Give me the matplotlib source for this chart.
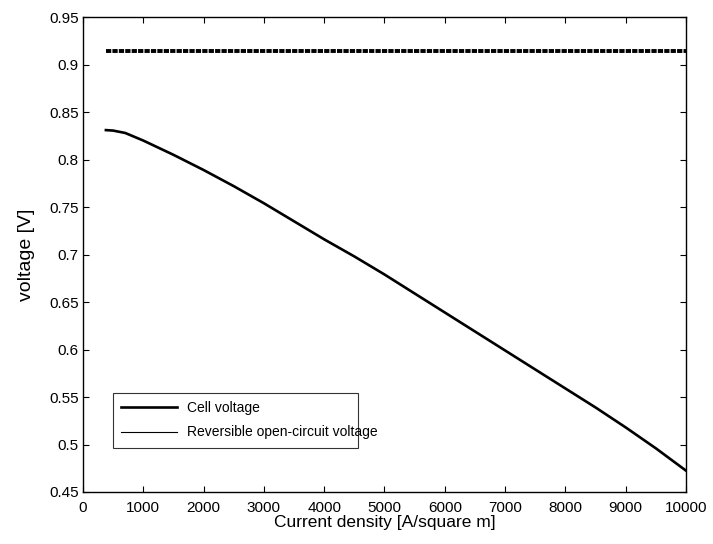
#!/usr/bin/env python3
import matplotlib
matplotlib.use("Agg")
import matplotlib.pyplot as plt
from matplotlib.ticker import FormatStrFormatter, FuncFormatter

# current density [A/m^2] and cell voltage [V]
current = [380, 500, 700, 1000, 1500, 2000, 2500, 3000, 3500, 4000, 4500,
           5000, 5500, 6000, 6500, 7000, 7500, 8000, 8500, 9000, 9500, 10000]
cell_v = [0.831, 0.8305, 0.828, 0.820, 0.805, 0.789, 0.772, 0.754, 0.735,
          0.716, 0.698, 0.679, 0.659, 0.639, 0.619, 0.599, 0.579, 0.559,
          0.539, 0.518, 0.496, 0.4725]

# reversible open-circuit voltage (constant)
rev_x = [380, 10000]
rev_v = [0.9145, 0.9145]

x_ticks = [0, 1000, 2000, 3000, 4000, 5000, 6000, 7000, 8000, 9000, 10000]
y_ticks = [0.45, 0.5, 0.55, 0.6, 0.65, 0.7, 0.75, 0.8, 0.85, 0.9, 0.95]


def main():
    plt.rcParams['font.family'] = ['Liberation Sans', 'DejaVu Sans']

    fig = plt.figure(figsize=(7.13, 5.44), dpi=100)
    ax = fig.add_axes([0.1164, 0.0956, 0.8457, 0.873])

    ax.plot(current, cell_v, color='black', lw=1.9, label='Cell voltage')
    ax.plot(rev_x, rev_v, color='black', lw=2.8, dashes=(1.35, 0.3),
            solid_capstyle='butt', dash_capstyle='butt')
    # legend entry drawn thin, as in the original
    ax.plot([], [], color='black', lw=0.8,
            label='Reversible open-circuit voltage')

    ax.set_xlim(0, 10000)
    ax.set_ylim(0.45, 0.95)
    ax.set_xticks(x_ticks)
    ax.set_yticks(y_ticks)
    ax.xaxis.set_major_formatter(FuncFormatter(lambda v, p: "%d" % v))
    ax.yaxis.set_major_formatter(FormatStrFormatter('%g'))
    ax.tick_params(direction='in', length=4, width=0.8, labelsize=11,
                   top=True, right=True)
    ax.tick_params(axis='x', pad=6.5)
    ax.tick_params(axis='y', pad=3)
    for s in ax.spines.values():
        s.set_linewidth(1.0)

    ax.set_xlabel("Current density [A/square m]", fontsize=12.5, labelpad=0)
    ax.set_ylabel("voltage [V]", fontsize=14, labelpad=10)

    handles, labels = ax.get_legend_handles_labels()
    leg = ax.legend(handles, labels, loc='lower left',
                    bbox_to_anchor=(0.05, 0.093, 0.406, 0.116),
                    mode='expand', fontsize=10, frameon=True, fancybox=False,
                    edgecolor='black', handlelength=4.0, handletextpad=0.7,
                    borderaxespad=0, labelspacing=0.75, borderpad=0.6)
    leg.get_frame().set_linewidth(0.8)

    fig.savefig("out.png", dpi=100)


if __name__ == '__main__':
    main()
